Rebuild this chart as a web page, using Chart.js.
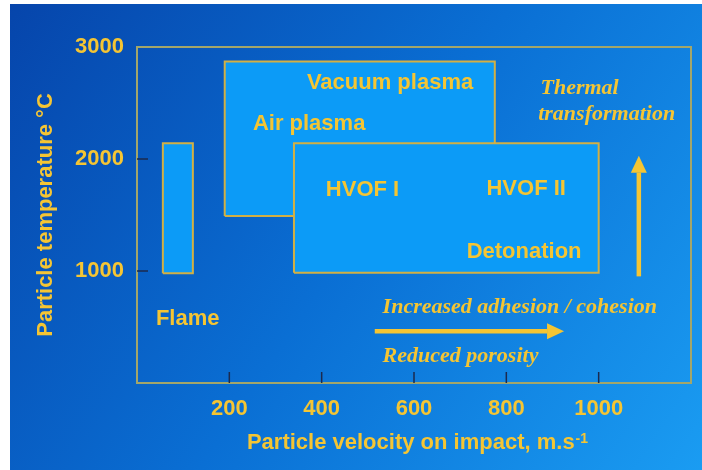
<!DOCTYPE html>
<html>
<head>
<meta charset="utf-8">
<script src="https://cdn.jsdelivr.net/npm/chart.js@4.4.0/dist/chart.umd.min.js"></script>
<style>
html, body { margin: 0; padding: 0; background: #fff; }
#wrap { width: 702px; height: 470px; }
</style>
</head>
<body>
<div id="wrap"><canvas id="chart"></canvas></div>
<script>
// process windows, velocity (m/s) and particle temperature (C)
const processNames = ['HVOF / Detonation', 'Air / Vacuum plasma', 'Flame'];
const velocityRanges = [[340, 1000], [190, 775], [56, 121]];
const tempRanges = [[985, 2140], [1490, 2870], [980, 2140]];

const xTicks = [200, 400, 600, 800, 1000];
const yTicks = [1000, 2000, 3000];

const yellow = '#f5c533';
const sans = '"Liberation Sans", Arial, sans-serif';
const serif = '"Liberation Serif", "Times New Roman", serif';

// text inside the plot, anchored at data units (left edge, vertical middle)
const notes = [
    { text: 'Vacuum plasma', x: 368, y: 2680 },
    { text: 'Air plasma', x: 251, y: 2315 },
    { text: 'HVOF I', x: 409, y: 1727 },
    { text: 'HVOF II', x: 757, y: 1736 },
    { text: 'Detonation', x: 714, y: 1166 },
    { text: 'Flame', x: 41, y: 570 },
    { text: 'Thermal', x: 874, y: 2635, italic: true },
    { text: 'transformation', x: 869, y: 2395, italic: true },
    { text: 'Increased adhesion / cohesion', x: 532, y: 677, italic: true },
    { text: 'Reduced porosity', x: 532, y: 240, italic: true }
];

// trend arrows, from -> to in data units
const arrows = [
    { from: [1087, 952], to: [1087, 2030] },
    { from: [515, 463], to: [925, 463] }
];

function box(i) {
    const [a, b] = velocityRanges[i];
    const [c, d] = tempRanges[i];
    return [{x: a, y: c}, {x: b, y: c}, {x: b, y: d}, {x: a, y: d}, {x: a, y: c}];
}

const slidePlugin = {
    id: 'slide',
    beforeDraw(chart) {
        const c = chart.ctx;
        c.save();
        c.fillStyle = '#fff';
        c.fillRect(0, 0, chart.width, chart.height);
        const g = c.createLinearGradient(10, 4, chart.width, chart.height);
        g.addColorStop(0, '#0645ab');
        g.addColorStop(0.5, '#0a6fd4');
        g.addColorStop(1, '#1a9cf2');
        c.fillStyle = g;
        c.fillRect(10, 4, chart.width - 10, chart.height - 4);
        c.restore();
    },
    afterDatasetsDraw(chart) {
        const c = chart.ctx;
        const xs = chart.scales.x, ys = chart.scales.y;
        const area = chart.chartArea;
        c.save();
        // frame
        c.strokeStyle = '#a3a66a';
        c.lineWidth = 2;
        c.strokeRect(area.left, area.top, area.right - area.left, area.bottom - area.top);
        // inward tick marks
        c.strokeStyle = '#1b2a4e';
        c.lineWidth = 1.5;
        c.beginPath();
        xTicks.forEach(v => {
            const px = xs.getPixelForValue(v);
            c.moveTo(px, area.bottom);
            c.lineTo(px, area.bottom - 11);
        });
        yTicks.filter(v => v < 3000).forEach(v => {
            const py = ys.getPixelForValue(v);
            c.moveTo(area.left, py);
            c.lineTo(area.left + 11, py);
        });
        c.stroke();
        // labels
        c.fillStyle = yellow;
        c.textBaseline = 'middle';
        c.textAlign = 'left';
        notes.forEach(n => {
            c.font = n.italic ? 'italic bold 22px ' + serif : 'bold 22px ' + sans;
            c.fillText(n.text, xs.getPixelForValue(n.x), ys.getPixelForValue(n.y));
        });
        // arrows
        arrows.forEach(a => {
            const x0 = xs.getPixelForValue(a.from[0]), y0 = ys.getPixelForValue(a.from[1]);
            const x1 = xs.getPixelForValue(a.to[0]), y1 = ys.getPixelForValue(a.to[1]);
            const ang = Math.atan2(y1 - y0, x1 - x0);
            const head = 17;
            c.strokeStyle = yellow;
            c.lineWidth = 4.5;
            c.beginPath();
            c.moveTo(x0, y0);
            c.lineTo(x1 - head * Math.cos(ang), y1 - head * Math.sin(ang));
            c.stroke();
            c.save();
            c.translate(x1, y1);
            c.rotate(ang);
            c.beginPath();
            c.moveTo(0, 0);
            c.lineTo(-head, -8);
            c.lineTo(-head, 8);
            c.closePath();
            c.fill();
            c.restore();
        });
        // x axis title with superscript
        const main = 'Particle velocity on impact, m.s';
        const sup = '-1';
        c.textBaseline = 'alphabetic';
        c.font = 'bold 22px ' + sans;
        const w1 = c.measureText(main).width;
        c.font = 'bold 14px ' + sans;
        const w2 = c.measureText(sup).width;
        const sx = (area.left + area.right) / 2 + 3 - (w1 + w2) / 2;
        c.font = 'bold 22px ' + sans;
        c.fillText(main, sx, 449);
        c.font = 'bold 14px ' + sans;
        c.fillText(sup, sx + w1 + 1, 443);
        c.restore();
    }
};

const ctx = document.getElementById('chart').getContext('2d');
const tickFont = { family: sans, weight: 'bold', size: 22 };

const chart = new Chart(ctx, {
    type: 'line',
    data: {
        datasets: processNames.map((name, i) => ({
            label: name,
            data: box(i),
            fill: 'shape',
            backgroundColor: '#0c9bf7',
            borderColor: '#d2b044',
            borderWidth: 2,
            borderJoinStyle: 'miter',
            pointRadius: 0,
            tension: 0
        }))
    },
    options: {
        responsive: true,
        maintainAspectRatio: false,
        animation: false,
        layout: { padding: { top: 47, right: 11, left: 10, bottom: 0 } },
        plugins: {
            legend: { display: false },
            tooltip: { enabled: false }
        },
        scales: {
            x: {
                type: 'linear',
                min: 0,
                max: 1200,
                afterBuildTicks: s => { s.ticks = xTicks.map(v => ({ value: v })); },
                afterFit: s => { s.height = 87; },
                grid: { display: false, drawTicks: false },
                border: { display: false },
                ticks: { color: yellow, font: tickFont, padding: 13, maxRotation: 0, callback: v => String(v) }
            },
            y: {
                type: 'linear',
                min: 0,
                max: 3000,
                afterBuildTicks: s => { s.ticks = yTicks.map(v => ({ value: v })); },
                afterFit: s => { s.width = 127; },
                grid: { display: false, drawTicks: false },
                border: { display: false },
                ticks: { color: yellow, font: tickFont, padding: 13, callback: v => String(v) },
                title: {
                    display: true,
                    text: 'Particle temperature °C',
                    color: yellow,
                    font: { family: sans, weight: 'bold', size: 22 },
                    padding: { top: 23, bottom: 0 }
                }
            }
        }
    },
    plugins: [slidePlugin]
});
</script>
</body>
</html>
